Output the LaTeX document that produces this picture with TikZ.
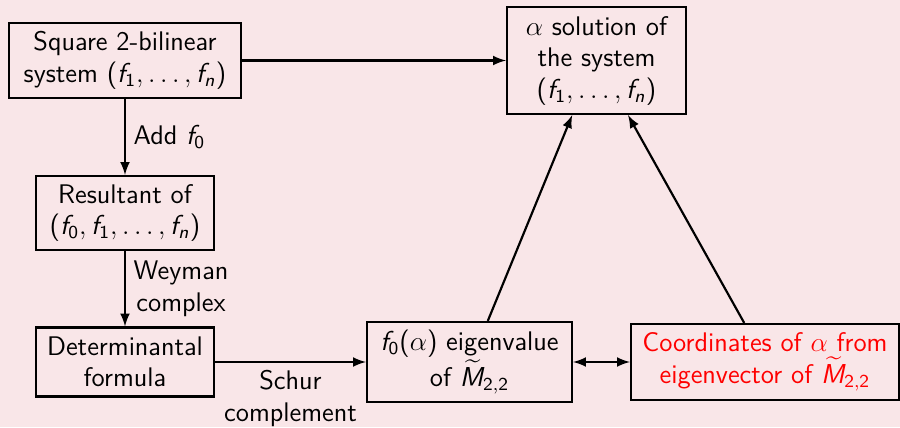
\documentclass[tikz,border=0pt]{standalone}
\usepackage{amsmath}
\DeclareSymbolFont{sfletters}{OT1}{cmss}{m}{sl}
\SetSymbolFont{operators}{normal}{OT1}{cmss}{m}{n}
\DeclareMathSymbol{f}{\mathalpha}{sfletters}{`f}
\DeclareMathSymbol{n}{\mathalpha}{sfletters}{`n}
\DeclareMathSymbol{M}{\mathalpha}{sfletters}{`M}
\definecolor{slidebg}{RGB}{249,230,232}
\newdimen\pxu
\pxu=0.01541cm

\begin{document}
\begin{tikzpicture}[x={(0.01541cm,0cm)},y={(0cm,-0.01541cm)},
  every node/.style={font=\sffamily\fontsize{11.8}{13.8}\selectfont, align=center},
  box/.style={draw=black, line width=0.95pt, inner sep=0pt},
  every path/.style={line width=0.95pt}]

\fill[slidebg] (0,0) rectangle (900,427);
\useasboundingbox (0,0) rectangle (900,427);

\node[box, minimum width=232*\pxu, minimum height=75*\pxu] (square) at (125,60.5) {Square 2-bilinear\\system $(f_1,\ldots,f_n)$};
\node[box, minimum width=178*\pxu, minimum height=74*\pxu] (resultant) at (125,213) {Resultant of\\$(f_0,f_1,\ldots,f_n)$};
\node[box, minimum width=178*\pxu, minimum height=69*\pxu] (determinantal) at (125,362) {Determinantal\\formula};
\node[box, minimum width=205*\pxu, minimum height=80*\pxu] (eigenvalue) at (469.5,362) {$f_0(\alpha)$ eigenvalue\\of $\widetilde{M}_{2,2}$};
\node[box, minimum width=268*\pxu, minimum height=76*\pxu, text=red] (eigenvector) at (765,362) {Coordinates of $\alpha$ from\\eigenvector of $\widetilde{M}_{2,2}$};
\node[box, minimum width=179*\pxu, minimum height=107*\pxu] (solution) at (596.5,60.5) {$\alpha$ solution of\\the system\\$(f_1,\ldots,f_n)$};

\draw[-latex] (square) -- (solution);
\draw[-latex] (square) -- node[right] {Add $f_0$} (resultant);
\draw[-latex] (resultant) -- node[right] {Weyman\\complex} (determinantal);
\draw[-latex] (determinantal) -- node[below] {Schur\\complement} (eigenvalue);
\draw[latex-latex] (eigenvalue) -- (eigenvector);
\draw[-latex] (eigenvalue.66) -- (solution.246);
\draw[-latex] (eigenvector.118) -- (solution.300);
\end{tikzpicture}
\end{document}
